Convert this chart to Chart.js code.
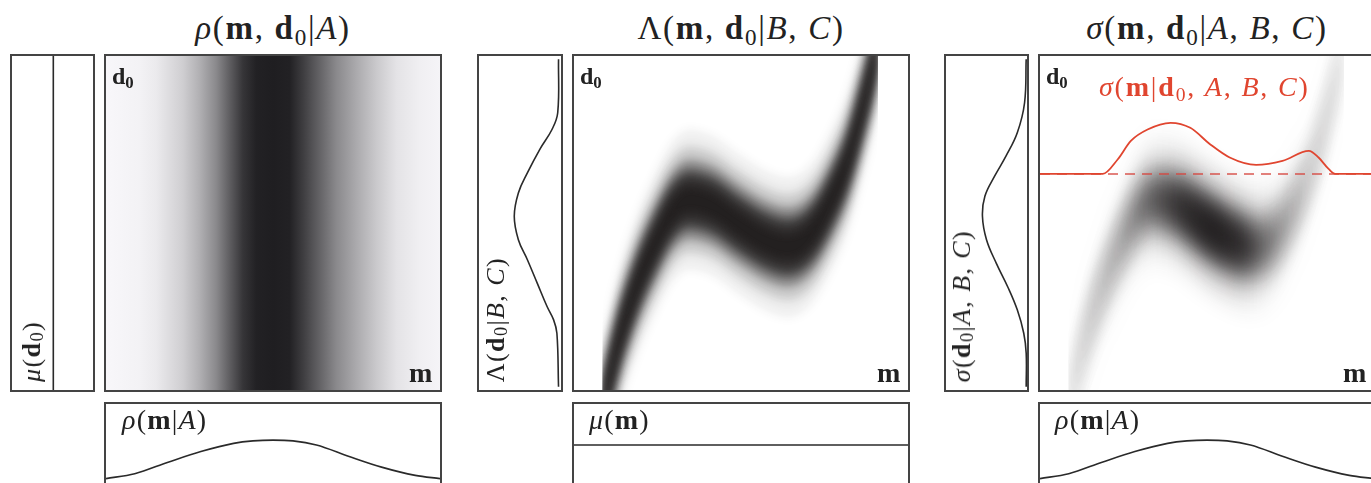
<!DOCTYPE html>
<html>
<head>
<meta charset="utf-8">
<script src="https://cdn.jsdelivr.net/npm/chart.js@4.4.0/dist/chart.umd.min.js"></script>
<style>
  body { margin: 0; width: 1371px; height: 483px; overflow: hidden; background: #fff; position: relative;
         font-family: "Liberation Serif", "DejaVu Serif", serif; color: #222; }
  .box { position: absolute; border: 2px solid #444; box-sizing: border-box; background: #fff; }
  .box canvas { display: block; position: absolute; left: 0; top: 0; }
  .t { position: absolute; white-space: nowrap; line-height: 1; }
  .t sub { font-size: .7em; vertical-align: -0.25em; line-height: 0; }
  .title { font-size: 33px; width: 400px; text-align: center; top: 12px; letter-spacing: 1.7px; }
  .corner { font-size: 24px; font-weight: bold; top: 64px; }
  .mlab { font-size: 28px; font-weight: bold; top: 359px; }
  .low { font-size: 28px; top: 406px; letter-spacing: 1.2px; }
  .side { font-size: 26px; writing-mode: vertical-rl; transform: rotate(180deg); bottom: 101px; width: 28px; letter-spacing: 1.4px; }
  .red { color: #e0452f; font-size: 28px; top: 73px; letter-spacing: 1.8px; }
</style>
</head>
<body>
<div class="t title" style="left:73px"><i>ρ</i>(<b>m</b>, <b>d</b><sub>0</sub>|<i>A</i>)</div>
<div class="t title" style="left:541px">Λ(<b>m</b>, <b>d</b><sub>0</sub>|<i>B</i>, <i>C</i>)</div>
<div class="t title" style="left:1007px"><i>σ</i>(<b>m</b>, <b>d</b><sub>0</sub>|<i>A</i>, <i>B</i>, <i>C</i>)</div>

<script>
// ---- data (m and d0 as fractions of the box) ----
// panel 1: grey level of rho(m, d0 | A) across m (1 = white)
const rhoM    = [0, .10, .15, .23, .28, .33, .37, .41, .45, .50, .55, .59, .64, .69, .75, .81, .87, .94, 1];
const rhoGray = [.98, .96, .93, .82, .70, .55, .38, .22, .14, .13, .14, .25, .40, .55, .68, .80, .90, .95, .97];

// bottom marginal rho(m | A)
const rhoCurveM   = [0, .086, .186, .284, .382, .44, .50, .56, .630, .728, .825, .926, 1];
const rhoCurveVal = [.09, .15, .29, .42, .52, .55, .56, .55, .50, .36, .23, .13, .09];

// uniform mu(d0) and mu(m)
const muD0Val = 0.49;
const muMVal = 0.50;

// ridge of Lambda(m, d0 | B, C)
const ridgeM  = [.085, .099, .138, .187, .247, .296, .345, .414, .493, .572, .641, .710, .769, .819, .858, .897, .91];
const ridgeD0 = [-.06, .004, .162, .310, .448, .536, .570, .552, .497, .448, .428, .467, .566, .684, .822, .980, 1.05];

// side marginal Lambda(d0 | B, C)
const lamD0  = [.01, .17, .21, .25, .32, .39, .45, .52, .59, .65, .72, .78, .83, .99];
const lamVal = [.03, .05, .09, .17, .29, .41, .52, .57, .52, .41, .26, .11, .04, .03];

// side marginal sigma(d0 | A, B, C)
const sigD0  = [.01, .11, .17, .24, .31, .38, .45, .52, .58, .64, .70, .77, .86, .99];
const sigVal = [.01, .01, .04, .12, .24, .38, .50, .55, .52, .40, .26, .12, .03, .01];

// how strongly the ridge shows in sigma(m, d0 | A, B, C) along m
const sigWeightM = [0, .10, .23, .30, .36, .45, .52, .60, .65, .72, .80, .90, 1];
const sigWeight  = [.05, .10, .20, .35, .50, .85, 1, .80, .45, .25, .13, .09, .06];

// red slice sigma(m | d0, A, B, C)
const sliceM  = [0, .188, .233, .272, .322, .391, .450, .509, .568, .647, .726, .805, .834, .864, .884, 1];
const sliceD0 = [.647, .647, .691, .746, .780, .800, .785, .736, .696, .674, .686, .716, .696, .662, .647, .647];
const sliceBase = 0.647;

// nested bands used to paint the blurred ridge
const bandHalf  = [.035, .065, .09, .12, .16, .21];
const bandAlpha = [.6, .6, .55, .35, .16, .07];

// ---- helpers ----
function box(left, top, w, h) {
  const d = document.createElement('div');
  d.className = 'box';
  d.style.cssText = `left:${left}px;top:${top}px;width:${w}px;height:${h}px`;
  const c = document.createElement('canvas');
  c.width = w - 4; c.height = h - 4;
  d.appendChild(c);
  document.body.appendChild(d);
  return c;
}
function label(html, cls, css) {
  const d = document.createElement('div');
  d.className = 't ' + cls;
  d.style.cssText = css;
  d.innerHTML = html;
  document.body.appendChild(d);
}
function opts(xRev, blurPx) {
  const o = {
    responsive: false, animation: false, events: [],
    layout: { padding: 0 },
    plugins: { legend: { display: false }, tooltip: { enabled: false } },
    scales: {
      x: { type: 'linear', display: false, min: 0, max: 1, reverse: !!xRev },
      y: { type: 'linear', display: false, min: 0, max: 1 }
    }
  };
  if (blurPx) o.plugins.blur = { px: blurPx };
  return o;
}
const pts = (xs, ys) => xs.map((x, i) => ({ x: x, y: ys[i] }));
const curve = (data, color, extra) => Object.assign({
  data: data, borderColor: color || '#2a2a2a', borderWidth: 1.6, pointRadius: 0, fill: false
}, extra || {});

const blurPlugin = {
  id: 'blur',
  beforeDatasetsDraw(chart, args, o) { chart.ctx.save(); chart.ctx.filter = 'blur(' + o.px + 'px)'; },
  afterDatasetsDraw(chart) { chart.ctx.restore(); }
};

function bands(colorFor) {
  const sets = [];
  bandHalf.forEach((h, i) => {
    sets.push({ data: pts(ridgeM, ridgeD0.map(v => v + h)), fill: '+1', backgroundColor: colorFor(bandAlpha[i]),
                borderColor: 'transparent', borderWidth: 0, pointRadius: 0, cubicInterpolationMode: 'monotone' });
    sets.push({ data: pts(ridgeM, ridgeD0.map(v => v - h)), fill: false,
                borderColor: 'transparent', borderWidth: 0, pointRadius: 0, cubicInterpolationMode: 'monotone' });
  });
  return sets;
}

// ---- panel 1 ----
new Chart(box(10, 54, 85, 338), {
  type: 'line',
  data: { datasets: [curve(pts([muD0Val, muD0Val], [0, 1]))] },
  options: opts(true)
});
new Chart(box(104, 54, 338, 338), {
  type: 'line',
  data: { datasets: [{
    data: pts([0, 1], [1, 1]), fill: 'start', borderColor: 'transparent', pointRadius: 0,
    backgroundColor: c => {
      const a = c.chart.chartArea;
      if (!a) return '#888';
      const g = c.chart.ctx.createLinearGradient(a.left, 0, a.right, 0);
      rhoM.forEach((m, i) => {
        const v = Math.round(rhoGray[i] * 255);
        g.addColorStop(m, `rgb(${v - 2},${v - 3},${v})`);
      });
      return g;
    }
  }] },
  options: opts(false)
});
new Chart(box(104, 402, 338, 86), {
  type: 'line',
  data: { datasets: [curve(pts(rhoCurveM, rhoCurveVal), null, { cubicInterpolationMode: 'monotone' })] },
  options: opts(false)
});

// ---- panel 2 ----
new Chart(box(477, 54, 86, 338), {
  type: 'line',
  data: { datasets: [curve(pts(lamVal, lamD0), null, { tension: 0.4 })] },
  options: opts(true)
});
new Chart(box(572, 54, 338, 338), {
  type: 'line',
  data: { datasets: bands(a => `rgba(26,23,24,${a})`) },
  options: opts(false, 4),
  plugins: [blurPlugin]
});
new Chart(box(572, 402, 338, 86), {
  type: 'line',
  data: { datasets: [curve(pts([0, 1], [muMVal, muMVal]))] },
  options: opts(false)
});

// ---- panel 3 ----
new Chart(box(944, 54, 85, 338), {
  type: 'line',
  data: { datasets: [curve(pts(sigVal, sigD0), null, { tension: 0.4 })] },
  options: opts(true)
});
const mainP3 = box(1038, 54, 338, 338);
new Chart(mainP3, {
  type: 'line',
  data: { datasets: bands(alpha => c => {
    const a = c.chart.chartArea;
    if (!a) return 'rgba(0,0,0,0)';
    const g = c.chart.ctx.createLinearGradient(a.left, 0, a.right, 0);
    sigWeightM.forEach((m, i) => g.addColorStop(m, `rgba(26,23,24,${alpha * sigWeight[i]})`));
    return g;
  }) },
  options: opts(false, 8),
  plugins: [blurPlugin]
});
const overlay = document.createElement('canvas');
overlay.width = 334; overlay.height = 334;
mainP3.parentNode.appendChild(overlay);
new Chart(overlay, {
  type: 'line',
  data: { datasets: [
    curve(pts(sliceM, sliceD0), '#e0452f', { cubicInterpolationMode: 'monotone', borderWidth: 1.8 }),
    curve(pts([0, 1], [sliceBase, sliceBase]), 'rgba(214,70,62,0.9)', { borderDash: [10, 7], borderWidth: 1.5 })
  ] },
  options: opts(false)
});
new Chart(box(1038, 402, 338, 86), {
  type: 'line',
  data: { datasets: [curve(pts(rhoCurveM, rhoCurveVal), null, { cubicInterpolationMode: 'monotone' })] },
  options: opts(false)
});

// ---- labels ----
label('<b>d</b><sub>0</sub>', 'corner', 'left:112px');
label('<b>d</b><sub>0</sub>', 'corner', 'left:580px');
label('<b>d</b><sub>0</sub>', 'corner', 'left:1046px');
label('m', 'mlab', 'left:409px');
label('m', 'mlab', 'left:877px');
label('m', 'mlab', 'left:1343px');
label('<i>ρ</i>(<b>m</b>|<i>A</i>)', 'low', 'left:122px');
label('<i>μ</i>(<b>m</b>)', 'low', 'left:589px');
label('<i>ρ</i>(<b>m</b>|<i>A</i>)', 'low', 'left:1055px');
label('<i>μ</i>(<b>d</b><sub>0</sub>)', 'side', 'left:19px');
label('Λ(<b>d</b><sub>0</sub>|<i>B</i>, <i>C</i>)', 'side', 'left:483px');
label('<i>σ</i>(<b>d</b><sub>0</sub>|<i>A</i>, <i>B</i>, <i>C</i>)', 'side', 'left:949px');
label('<i>σ</i>(<b>m</b>|<b>d</b><sub>0</sub>, <i>A</i>, <i>B</i>, <i>C</i>)', 'red', 'left:1099px');
</script>
</body>
</html>
